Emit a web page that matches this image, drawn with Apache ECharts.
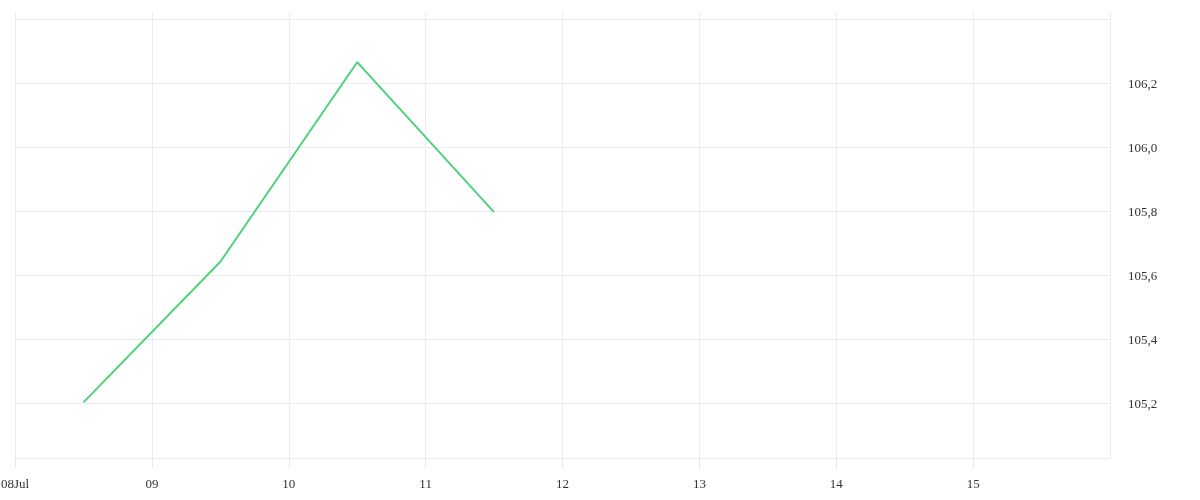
<!DOCTYPE html>
<html>
<head>
<meta charset="utf-8">
<title>chart</title>
<script src="https://cdn.jsdelivr.net/npm/echarts@6/dist/echarts.min.js"></script>
<style>
  html, body { margin: 0; padding: 0; background: #fff; }
  #main { width: 1200px; height: 500px; }
</style>
</head>
<body>
<div id="main"></div>
<script>
// data
var dates = ['2024-07-08', '2024-07-09', '2024-07-10', '2024-07-11'];
var prices = [105.202, 105.642, 106.266, 105.797];
var dayMin = 8, dayMax = 16;
var yMin = 105.028, yMax = 106.423;

var gridColor = '#ececec';
var font = '"Liberation Serif", "DejaVu Serif", serif';

// points sit at noon of each day
var points = dates.map(function (d, i) {
    return [parseInt(d.slice(8, 10), 10) + 0.5, prices[i]];
});

var dom = document.getElementById('main');
var myChart = echarts.init(dom);

var option = {
    animation: false,
    grid: { left: 15, right: 90, top: 12, bottom: 42, outerBoundsMode: 'none', containLabel: false },
    xAxis: {
        type: 'value',
        min: dayMin,
        max: dayMax,
        interval: 1,
        axisLine: { show: true, lineStyle: { color: gridColor, width: 1 } },
        axisTick: { show: true, inside: false, length: 10, lineStyle: { color: '#e6e6e6', width: 1 } },
        splitLine: { show: true, lineStyle: { color: gridColor } },
        axisLabel: {
            showMaxLabel: false,
            margin: 20,
            color: '#333',
            fontFamily: font,
            fontSize: 13,
            formatter: function (v) {
                var s = (v < 10 ? '0' : '') + v;
                return v === dayMin ? s + 'Jul' : s;
            }
        }
    },
    yAxis: {
        type: 'value',
        position: 'right',
        min: yMin,
        max: yMax,
        splitNumber: 7,
        axisLine: { show: true, lineStyle: { color: gridColor } },
        axisTick: { show: false },
        splitLine: { show: true, showMaxLine: false, lineStyle: { color: gridColor } },
        axisLabel: {
            margin: 18,
            color: '#333',
            fontFamily: font,
            fontSize: 13,
            verticalAlign: 'top',
            padding: [-5, 0, 0, 0],
            formatter: function (v) {
                if (v < 105.1 || v > 106.3) return '';
                return v.toFixed(1).replace('.', ',');
            }
        }
    },
    series: [{
        type: 'line',
        data: points,
        symbol: 'none',
        lineStyle: { color: '#4cd27a', width: 2 }
    }]
};

myChart.setOption(option, true);
window.onresize = function () {
    myChart.resize();
};
</script>
</body>
</html>
